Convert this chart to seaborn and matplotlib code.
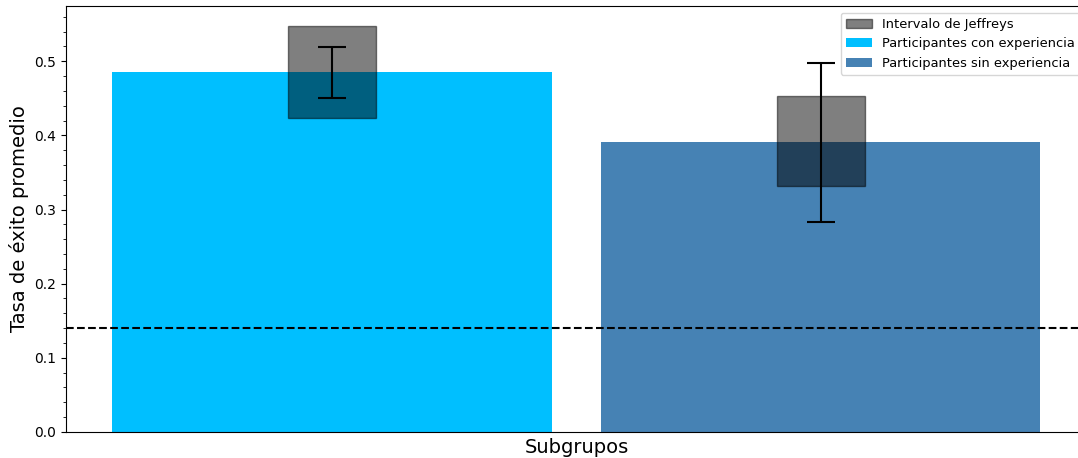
import matplotlib
matplotlib.use("Agg")
import matplotlib.pyplot as plt
from matplotlib.patches import Patch
from matplotlib.ticker import AutoMinorLocator
import numpy as np
import pandas as pd
import seaborn as sns

# Subgroups and their mean success rates
grupos = ["Participantes con experiencia", "Participantes sin experiencia"]
tasas = [0.485, 0.391]
colores = ["#00BFFF", "#4682B4"]

# Jeffreys interval bounds per subgroup
jeffreys_inf = [0.423, 0.332]
jeffreys_sup = [0.547, 0.453]

# Error bar bounds per subgroup
error_inf = [0.450, 0.283]
error_sup = [0.519, 0.497]

# Reference (chance) level
nivel_azar = 0.14

df = pd.DataFrame({"grupo": grupos, "tasa": tasas})

fig = plt.figure(figsize=(10.78, 4.58), dpi=100)
ax = fig.add_axes([0.0612, 0.0568, 0.947, 0.930])

sns.barplot(data=df, x="grupo", y="tasa", hue="grupo", palette=colores,
            width=0.9, saturation=1, errorbar=None, legend=False, ax=ax)

x = np.arange(len(grupos))
alto = np.array(jeffreys_sup) - np.array(jeffreys_inf)
ax.bar(x, alto, bottom=jeffreys_inf, width=0.18, color="black",
       alpha=0.5, edgecolor="black", linewidth=1)

yerr = [np.array(tasas) - np.array(error_inf), np.array(error_sup) - np.array(tasas)]
ax.errorbar(x, tasas, yerr=yerr, fmt="none", ecolor="black",
            elinewidth=1.5, capsize=10, capthick=1.5)

ax.axhline(nivel_azar, color="black", linestyle="--", linewidth=1.5)

ax.set_xlim(-0.545, 1.545)
ax.set_ylim(0, max(jeffreys_sup) * 1.05)
ax.set_xticks([])
ax.yaxis.set_minor_locator(AutoMinorLocator(5))
ax.set_xlabel("Subgrupos", fontsize=14)
ax.set_ylabel("Tasa de éxito promedio", fontsize=14)
ax.tick_params(axis="y", labelsize=10)

handles = [Patch(facecolor="black", alpha=0.5, edgecolor="black", label="Intervalo de Jeffreys")]
handles += [Patch(facecolor=c, label=g) for c, g in zip(colores, grupos)]
ax.legend(handles=handles, loc="upper right", fontsize=9.4)

fig.savefig("out.png", dpi=100)
